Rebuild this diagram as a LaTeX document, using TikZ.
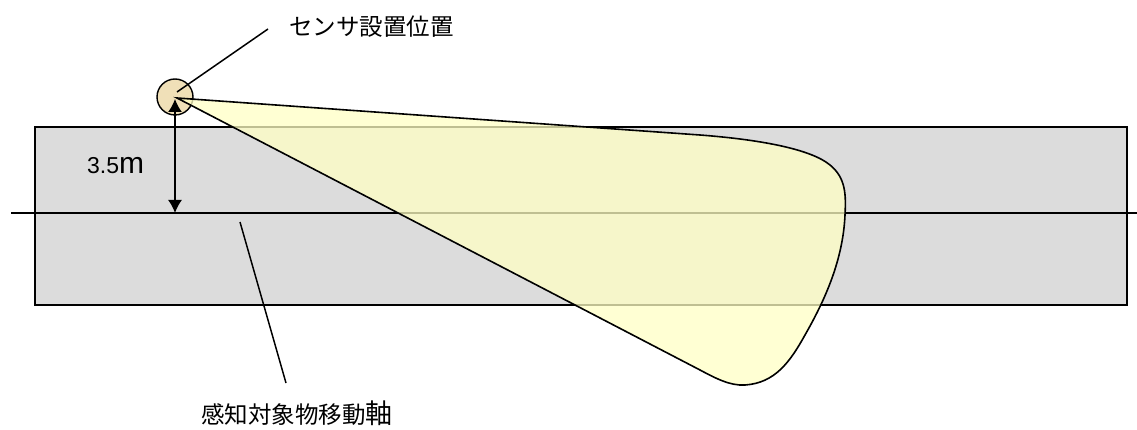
\documentclass[tikz,border=0pt]{standalone}
\usepackage{fontspec}
\usetikzlibrary{arrows.meta}
\setmainfont{Liberation Sans}
\newfontfamily\cjk{Noto Sans CJK JP}
\definecolor{boxgray}{HTML}{DCDCDC}
\definecolor{zoneyellow}{HTML}{FFFFC4}
\definecolor{sensortan}{HTML}{F0E0B8}
\begin{document}
\begin{tikzpicture}[x=1pt,y=-1pt,
  thinline/.style={line width=1.5pt, black},
  lbl/.style={inner sep=0pt, anchor=west}]
\useasboundingbox (0,0) rectangle (1137,430);
% road band
\node[draw=black, line width=1.6pt, fill=boxgray, minimum width=1092pt, minimum height=178pt, inner sep=0pt, anchor=north west] (band) at (34,126) {};
% movement axis
\coordinate (axL) at (11,213);
\coordinate (axR) at (1137,213);
\draw[thinline] (axL) -- (axR);
% sensor
\node[circle, draw=black, line width=1.4pt, fill=sensortan, minimum size=36pt, inner sep=0pt] (sensor) at (175,97) {};
\coordinate (apex) at (177,98);
% detection zone
\path[draw=black, line width=1.6pt, fill=zoneyellow, fill opacity=0.75]
  (apex) -- (700,135)
  .. controls (765,140) and (812,150) .. (830,165)
  .. controls (846,178) and (846,195) .. (845,215)
  .. controls (843,260) and (825,300) .. (805,335)
  .. controls (790,362) and (775,383) .. (745,385)
  .. controls (730,386) and (715,378) .. (700,370)
  -- cycle;
% height dimension
\coordinate (axpt) at (175,213);
\coordinate (top) at (175,99);
\draw[thinline, {Latex[length=13pt,width=14pt]}-{Latex[length=13pt,width=14pt]}] (top) -- (axpt);
\node[lbl, anchor=base west] (h) at (87,174) {\fontsize{23pt}{23pt}\selectfont 3.5\fontsize{30pt}{30pt}\selectfont m};
% sensor label
\coordinate (sl) at (268,29);
\draw[thinline] (177,92) -- (sl);
\node[lbl] (slabel) at (289,27) {\fontsize{23.5pt}{23.5pt}\selectfont\cjk センサ設置位置};
% axis label
\coordinate (al0) at (240,222);
\coordinate (al1) at (286,383);
\draw[thinline] (al0) -- (al1);
\node[lbl] (alabel) at (201,413) {\fontsize{23.5pt}{23.5pt}\selectfont\cjk 感知対象物移動\fontsize{27pt}{27pt}\selectfont 軸};
\end{tikzpicture}
\end{document}
